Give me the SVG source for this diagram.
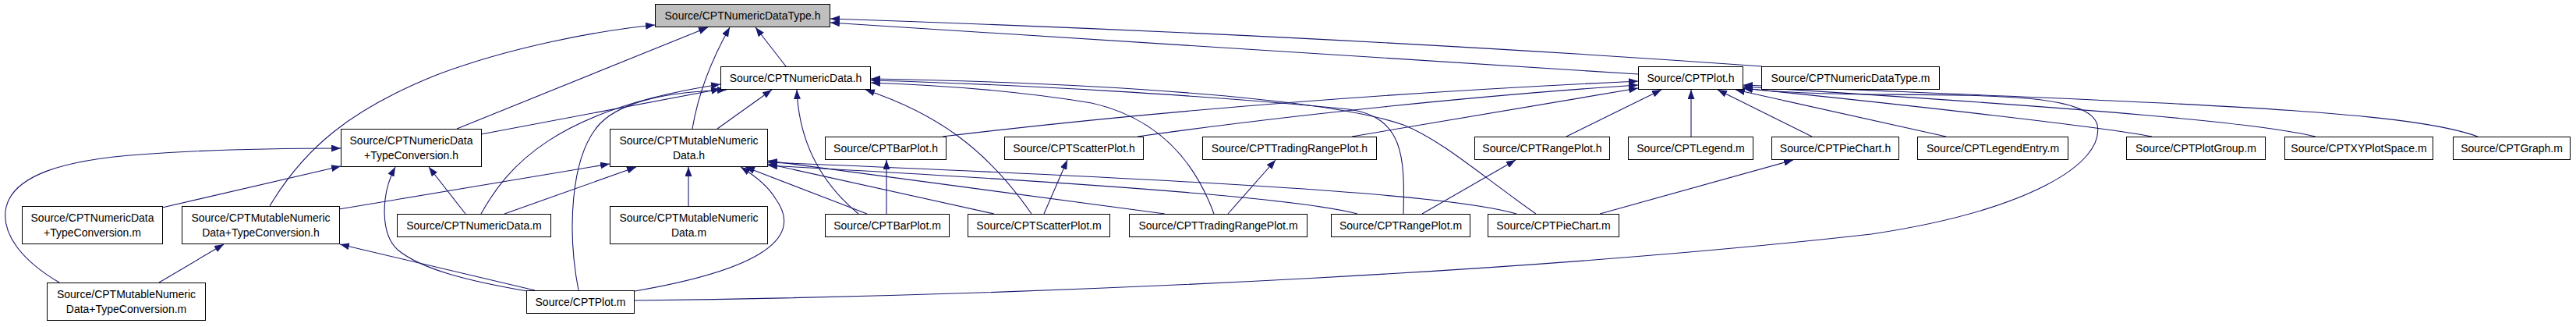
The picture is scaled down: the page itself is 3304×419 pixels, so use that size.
<svg xmlns="http://www.w3.org/2000/svg" width="3304" height="419" viewBox="0 0 3304 419">
<style>
.n rect{fill:#fff;stroke:#000;stroke-width:1}
.n.root rect{fill:#bfbfbf}
.n text{font-family:"Liberation Sans",Arial,sans-serif;font-size:14px;text-anchor:middle;fill:#000}
.e path{fill:none;stroke:#191970;stroke-width:1.1;marker-end:url(#ah)}
</style>
<defs>
<marker id="ah" markerUnits="userSpaceOnUse" markerWidth="12" markerHeight="9" refX="12" refY="4.5" orient="auto"><path d="M0,0 L12,4.5 L0,9 z" fill="#191970"/></marker>
</defs>
<rect width="3304" height="419" fill="#fff"/>
<g id="connectors" class="e">
<path d="M346,264 C390,190 450,140 560,96 C650,62 760,40 840,32"/>
<path d="M586,165 L908,35"/>
<path d="M888,165 C893,135 905,90 936,35"/>
<path d="M1008,85 L969,35"/>
<path d="M2260,85 Q1700,45 1065,24"/>
<path d="M2101,95 L1065,29"/>
<path d="M617,172 L924,114"/>
<path d="M617,274 C650,215 710,140 924,108"/>
<path d="M742,372 C728,300 730,200 770,158 C800,128 860,118 932,115"/>
<path d="M920,165 L990,115"/>
<path d="M1101,274 C1060,240 1025,190 1022,115"/>
<path d="M1323,274 C1265,190 1200,145 1110,115"/>
<path d="M1557,274 C1530,200 1480,150 1400,132 C1300,115 1200,109 1117,106"/>
<path d="M1800,274 C1802,200 1800,150 1730,140 C1550,122 1300,108 1117,103"/>
<path d="M1970,274 C1900,225 1850,180 1800,160 C1700,125 1400,106 1117,101"/>
<path d="M597,274 L550,214"/>
<path d="M647,274 L816,214"/>
<path d="M883,264 L883,214"/>
<path d="M814,373 C960,348 1035,310 995,255 C985,238 968,225 950,214"/>
<path d="M1112,274 L956,214"/>
<path d="M1275,274 L985,210"/>
<path d="M1494,274 L985,206"/>
<path d="M1741,274 C1680,258 1500,240 985,212"/>
<path d="M1945,274 C1880,255 1700,237 985,208"/>
<path d="M435,268 L782,210"/>
<path d="M208,266 L437,213"/>
<path d="M204,362 L287,313"/>
<path d="M76,362 C30,335 0,300 8,265 C18,225 80,205 180,198 C260,192 350,190 437,190"/>
<path d="M676,373 C600,360 540,345 510,320 C488,300 488,250 507,214"/>
<path d="M686,372 L436,313"/>
<path d="M814,385 C1400,378 2000,345 2400,300 C2600,270 2700,210 2690,160 C2680,120 2550,122 2400,121 C2320,120 2270,118 2236,113"/>
<path d="M1137,274 L1137,205"/>
<path d="M1339,274 L1369,205"/>
<path d="M1575,274 L1636,205"/>
<path d="M1824,274 L1944,205"/>
<path d="M2052,274 L2300,205"/>
<path d="M1209,175 C1500,140 1800,118 2101,104"/>
<path d="M1459,175 C1650,148 1900,122 2101,109"/>
<path d="M1734,175 L2101,113"/>
<path d="M2009,175 L2131,115"/>
<path d="M2169,175 L2169,115"/>
<path d="M2324,175 L2203,115"/>
<path d="M2496,175 L2226,115"/>
<path d="M2760,175 C2700,163 2450,135 2236,113"/>
<path d="M2970,175 C2900,158 2700,140 2236,111"/>
<path d="M3178,175 C3080,140 2800,133 2236,109"/>
</g>
<g id="n_NumericDataType_h" class="n root"><rect x="840.5" y="5.5" width="224" height="29"/><text x="952.5" y="25">Source/CPTNumericDataType.h</text></g>
<g id="n_NumericData_h" class="n"><rect x="924.5" y="85.5" width="192" height="29"/><text x="1020.5" y="105">Source/CPTNumericData.h</text></g>
<g id="n_Plot_h" class="n"><rect x="2101.5" y="85.5" width="134" height="29"/><text x="2168.5" y="105">Source/CPTPlot.h</text></g>
<g id="n_NumericDataType_m" class="n"><rect x="2259.5" y="85.5" width="228" height="29"/><text x="2373.5" y="105">Source/CPTNumericDataType.m</text></g>
<g id="n_NumericDataTC_h" class="n"><rect x="437.5" y="165.5" width="180" height="48"/><text x="527.5" y="185">Source/CPTNumericData</text><text x="527.5" y="204">+TypeConversion.h</text></g>
<g id="n_MutableNumericData_h" class="n"><rect x="782.5" y="165.5" width="202" height="48"/><text x="883.5" y="185">Source/CPTMutableNumeric</text><text x="883.5" y="204">Data.h</text></g>
<g id="n_BarPlot_h" class="n"><rect x="1058.5" y="175.5" width="155" height="29"/><text x="1136" y="195">Source/CPTBarPlot.h</text></g>
<g id="n_ScatterPlot_h" class="n"><rect x="1288.5" y="175.5" width="178" height="29"/><text x="1377.5" y="195">Source/CPTScatterPlot.h</text></g>
<g id="n_TradingRangePlot_h" class="n"><rect x="1542.5" y="175.5" width="223" height="29"/><text x="1654" y="195">Source/CPTTradingRangePlot.h</text></g>
<g id="n_RangePlot_h" class="n"><rect x="1891.5" y="175.5" width="173" height="29"/><text x="1978" y="195">Source/CPTRangePlot.h</text></g>
<g id="n_Legend_m" class="n"><rect x="2088.5" y="175.5" width="160" height="29"/><text x="2168.5" y="195">Source/CPTLegend.m</text></g>
<g id="n_PieChart_h" class="n"><rect x="2272.5" y="175.5" width="163" height="29"/><text x="2354" y="195">Source/CPTPieChart.h</text></g>
<g id="n_LegendEntry_m" class="n"><rect x="2459.5" y="175.5" width="193" height="29"/><text x="2556" y="195">Source/CPTLegendEntry.m</text></g>
<g id="n_PlotGroup_m" class="n"><rect x="2727.5" y="175.5" width="178" height="29"/><text x="2816.5" y="195">Source/CPTPlotGroup.m</text></g>
<g id="n_XYPlotSpace_m" class="n"><rect x="2930.5" y="175.5" width="190" height="29"/><text x="3025.5" y="195">Source/CPTXYPlotSpace.m</text></g>
<g id="n_Graph_m" class="n"><rect x="3146.5" y="175.5" width="150" height="29"/><text x="3221.5" y="195">Source/CPTGraph.m</text></g>
<g id="n_NumericDataTC_m" class="n"><rect x="28.5" y="264.5" width="180" height="48"/><text x="118.5" y="284">Source/CPTNumericData</text><text x="118.5" y="303">+TypeConversion.m</text></g>
<g id="n_MutableNumericDataTC_h" class="n"><rect x="233.5" y="264.5" width="202" height="48"/><text x="334.5" y="284">Source/CPTMutableNumeric</text><text x="334.5" y="303">Data+TypeConversion.h</text></g>
<g id="n_NumericData_m" class="n"><rect x="509.5" y="274.5" width="197" height="29"/><text x="608" y="294">Source/CPTNumericData.m</text></g>
<g id="n_MutableNumericData_m" class="n"><rect x="782.5" y="264.5" width="202" height="48"/><text x="883.5" y="284">Source/CPTMutableNumeric</text><text x="883.5" y="303">Data.m</text></g>
<g id="n_BarPlot_m" class="n"><rect x="1058.5" y="274.5" width="159" height="29"/><text x="1138" y="294">Source/CPTBarPlot.m</text></g>
<g id="n_ScatterPlot_m" class="n"><rect x="1241.5" y="274.5" width="182" height="29"/><text x="1332.5" y="294">Source/CPTScatterPlot.m</text></g>
<g id="n_TradingRangePlot_m" class="n"><rect x="1448.5" y="274.5" width="228" height="29"/><text x="1562.5" y="294">Source/CPTTradingRangePlot.m</text></g>
<g id="n_RangePlot_m" class="n"><rect x="1707.5" y="274.5" width="178" height="29"/><text x="1796.5" y="294">Source/CPTRangePlot.m</text></g>
<g id="n_PieChart_m" class="n"><rect x="1908.5" y="274.5" width="168" height="29"/><text x="1992.5" y="294">Source/CPTPieChart.m</text></g>
<g id="n_MutableNumericDataTC_m" class="n"><rect x="60.5" y="362.5" width="203" height="48"/><text x="162" y="382">Source/CPTMutableNumeric</text><text x="162" y="401">Data+TypeConversion.m</text></g>
<g id="n_Plot_m" class="n"><rect x="675.5" y="372.5" width="138" height="29"/><text x="744.5" y="392">Source/CPTPlot.m</text></g>
</svg>
